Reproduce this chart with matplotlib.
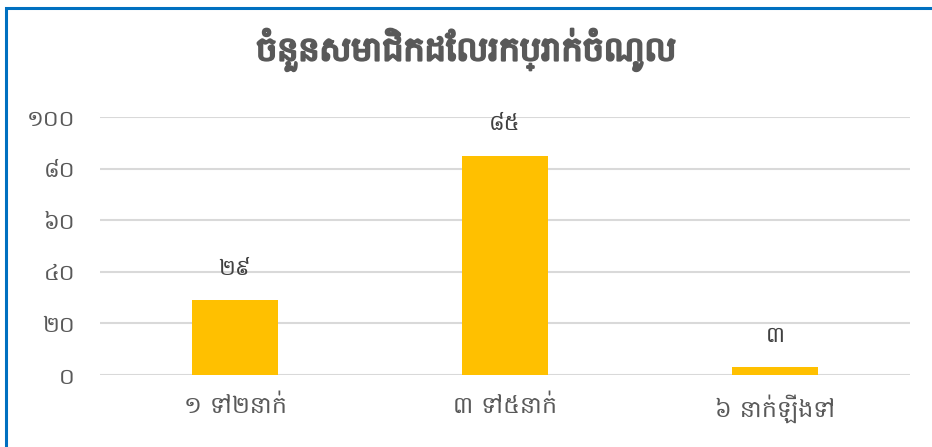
import matplotlib
matplotlib.use('Agg')
import matplotlib.pyplot as plt
import matplotlib.patheffects as pe
from matplotlib import font_manager

# household members earning an income, grouped by how many per household
categories = ['១ ទៅ២នាក់', '៣ ទៅ៥នាក់', '៦ នាក់ឡើងទៅ']
members = [29, 85, 3]
khmer_digits = '០១២៣៤៥៦៧៨៩'
y_ticks = [0, 20, 40, 60, 80, 100]
title = 'ចំនួនសមាជិកដែលរកប្រាក់ចំណូល'


def to_khmer(n):
    return ''.join(khmer_digits[int(d)] for d in str(n))


# pick any installed family that covers Khmer, fall back to DejaVu
khmer_fonts = []
for f in font_manager.fontManager.ttflist:
    if 'khmer' in f.name.lower() or 'hanuman' in f.name.lower():
        if f.name not in khmer_fonts:
            khmer_fonts.append(f.name)
plt.rcParams['font.family'] = khmer_fonts + ['DejaVu Sans']

text_color = '#595959'
fig = plt.figure(figsize=(9.32, 4.47), dpi=100)
ax = fig.add_axes([100 / 932, 72 / 447, 810 / 932, 258 / 447])

x = range(len(categories))
bars = ax.bar(x, members, width=0.315, color='#FFC000', zorder=3)
for rect, v in zip(bars, members):
    ax.text(rect.get_x() + rect.get_width() / 2, v + 8, to_khmer(v),
            ha='center', va='bottom', fontsize=16, color='#404040')

ax.set_xlim(-0.5, 2.5)
ax.set_ylim(0, 100)
ax.set_yticks(y_ticks)
ax.set_yticklabels([to_khmer(t) for t in y_ticks], fontsize=16, color=text_color)
ax.set_xticks(list(x))
ax.set_xticklabels(categories, fontsize=17, color=text_color)
ax.tick_params(axis='x', length=0, pad=14)
ax.tick_params(axis='y', length=0, pad=18)
ax.yaxis.grid(True, color='#D9D9D9', linewidth=1.5, zorder=0)
for s in ax.spines.values():
    s.set_visible(False)

fig.text(0.5, 1 - 50 / 447, title, ha='center', va='center',
         fontsize=24, fontweight='bold', color=text_color,
         path_effects=[pe.withStroke(linewidth=1.6, foreground=text_color)])

# outer chart frame
fig.patches.append(plt.Rectangle((6 / 932, -0.1), 1.2, 1 - 8 / 447 + 0.1,
                                 transform=fig.transFigure, fill=False,
                                 edgecolor='#0070C0', linewidth=2.2))

fig.savefig('out.png', dpi=100)
